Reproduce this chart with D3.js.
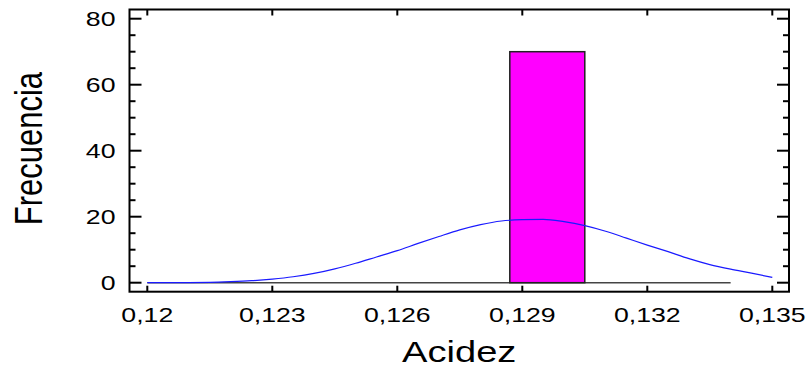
<!DOCTYPE html>
<html>
<head>
<meta charset="utf-8">
<script src="https://cdn.jsdelivr.net/npm/d3@7"></script>
<style>
  html, body { margin: 0; padding: 0; background: #fff; }
  svg { display: block; font-family: "Liberation Sans", Arial, sans-serif; }
</style>
</head>
<body>
<svg id="chart" width="811" height="373"></svg>
<script>
// Histogram of acidity with a fitted normal curve
const binEdges = [0.12, 0.1287, 0.1305, 0.134];
const binCounts = [0, 70, 0];

// Fitted curve, sampled every 0.0005
const curveX = [0.1200, 0.1205, 0.1210, 0.1215, 0.1220, 0.1225, 0.1230, 0.1235, 0.1240, 0.1245,
                0.1250, 0.1255, 0.1260, 0.1265, 0.1270, 0.1275, 0.1280, 0.1285, 0.1290, 0.1295,
                0.1300, 0.1305, 0.1310, 0.1315, 0.1320, 0.1325, 0.1330, 0.1335, 0.1340, 0.1345, 0.1350];
const curveY = [0.0, 0.0, 0.05, 0.1, 0.3, 0.6, 1.1, 1.8, 2.8, 4.2,
                5.9, 7.8, 9.7, 11.9, 14.0, 16.0, 17.6, 18.7, 19.1, 19.2,
                18.5, 17.3, 15.6, 13.5, 11.4, 9.4, 7.3, 5.5, 4.1, 2.9, 1.6];

const xTicks = [0.12, 0.123, 0.126, 0.129, 0.132, 0.135];
const yTicks = [0, 20, 40, 60, 80];
const yMinorTicks = [5, 10, 15, 25, 30, 35, 45, 50, 55, 65, 70, 75];

const xTitle = "Acidez";
const yTitle = "Frecuencia";

// Text is drawn horizontally widened
const stretch = 1.27;
const frame = { left: 129.5, right: 789, top: 9.5, bottom: 291.7 };

const svg = d3.select("#chart");
const x = d3.scaleLinear().domain([0.12, 0.135]).range([147.3, 772.3]);
const y = d3.scaleLinear().domain([0, 80]).range([282.7, 18.7]);

const locale = d3.formatLocale({ decimal: ",", thousands: ".", grouping: [3], currency: ["", "€"] });
const fmt = locale.format("~g");

// Histogram baseline and bars
svg.append("line")
  .attr("x1", x(binEdges[0])).attr("x2", x(binEdges[binEdges.length - 1]))
  .attr("y1", y(0)).attr("y2", y(0))
  .attr("stroke", "#444").attr("stroke-width", 1.5);

const bins = binCounts.map((c, i) => ({ x0: binEdges[i], x1: binEdges[i + 1], count: c }));
svg.selectAll("rect.bar").data(bins.filter(b => b.count > 0)).enter().append("rect")
  .attr("class", "bar")
  .attr("x", d => x(d.x0))
  .attr("width", d => x(d.x1) - x(d.x0))
  .attr("y", d => y(d.count))
  .attr("height", d => y(0) - y(d.count))
  .attr("fill", "#ff00ff")
  .attr("stroke", "#222").attr("stroke-width", 1.5);

// Normal curve
const line = d3.line().x((d, i) => x(curveX[i])).y(d => y(d)).curve(d3.curveMonotoneX);
svg.append("path").datum(curveY)
  .attr("d", line)
  .attr("fill", "none").attr("stroke", "#1a1aff").attr("stroke-width", 1.2);

// Frame
svg.append("rect")
  .attr("x", frame.left).attr("y", frame.top)
  .attr("width", frame.right - frame.left).attr("height", frame.bottom - frame.top)
  .attr("fill", "none").attr("stroke", "#000").attr("stroke-width", 2);

const ticks = svg.append("g").attr("stroke", "#000").attr("stroke-width", 2);
// X ticks, top and bottom, pointing inward
xTicks.forEach(v => {
  ticks.append("line").attr("x1", x(v)).attr("x2", x(v)).attr("y1", frame.bottom).attr("y2", frame.bottom - 6);
  ticks.append("line").attr("x1", x(v)).attr("x2", x(v)).attr("y1", frame.top).attr("y2", frame.top + 6);
});
// Y ticks, left and right
yTicks.forEach(v => {
  ticks.append("line").attr("x1", frame.left).attr("x2", frame.left + 12).attr("y1", y(v)).attr("y2", y(v));
  ticks.append("line").attr("x1", frame.right).attr("x2", frame.right - 12).attr("y1", y(v)).attr("y2", y(v));
});
yMinorTicks.forEach(v => {
  ticks.append("line").attr("x1", frame.left).attr("x2", frame.left + 6).attr("y1", y(v)).attr("y2", y(v));
  ticks.append("line").attr("x1", frame.right).attr("x2", frame.right - 6).attr("y1", y(v)).attr("y2", y(v));
});

// Tick labels
svg.selectAll("text.xt").data(xTicks).enter().append("text")
  .attr("class", "xt")
  .attr("transform", d => `translate(${x(d)},322.3) scale(${stretch},1)`)
  .attr("text-anchor", "middle")
  .attr("font-size", 21)
  .text(d => fmt(d));

svg.selectAll("text.yt").data(yTicks).enter().append("text")
  .attr("class", "yt")
  .attr("transform", d => `translate(115.5,${y(d)}) scale(${stretch},1)`)
  .attr("text-anchor", "end")
  .attr("dy", "0.36em")
  .attr("font-size", 21)
  .text(d => fmt(d));

// Axis titles
svg.append("text")
  .attr("transform", `translate(${(frame.left + frame.right) / 2},361.7) scale(${stretch},1)`)
  .attr("text-anchor", "middle")
  .attr("font-size", 30)
  .text(xTitle);

svg.append("text")
  .attr("transform", `translate(41.7,${(frame.top + frame.bottom) / 2 - 2}) scale(${stretch},1) rotate(-90)`)
  .attr("text-anchor", "middle")
  .attr("font-size", 31)
  .text(yTitle);
</script>
</body>
</html>
